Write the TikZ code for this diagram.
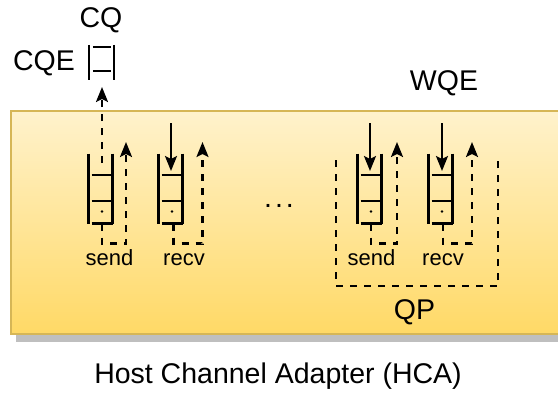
\documentclass[tikz,border=0pt]{standalone}
\usepackage{fontspec}
\setmainfont{Liberation Sans}
\usetikzlibrary{arrows.meta,calc}
\definecolor{boxtop}{HTML}{FFF2CC}
\definecolor{boxbot}{HTML}{FFD966}
\definecolor{boxline}{HTML}{D6B656}
\definecolor{shadowc}{HTML}{BFBFBF}
\tikzset{
  qline/.style={line width=2.3pt},
  qnode/.style={minimum width=24pt,minimum height=70pt,inner sep=0pt,outer sep=0pt},
  solidarrow/.style={line width=2.3pt,-{Stealth[length=15pt,width=12pt,inset=3pt]}},
  dasharrow/.style={line width=2.3pt,dash pattern=on 7pt off 7pt,-{Stealth[length=15pt,width=12pt,inset=3pt]}},
  dashline/.style={line width=2.3pt,dash pattern=on 7pt off 7pt},
  biglabel/.style={anchor=base,inner sep=0pt,font=\fontsize{28.5}{30}\selectfont},
  smalllabel/.style={anchor=base,inner sep=0pt,font=\fontsize{22}{24}\selectfont},
}
\newcommand\drawqueue[3]{%
  \node[qnode] (#1) at (#2,#3) {};
  \draw[qline] (#1.north west) -- (#1.south west);
  \draw[qline] (#1.north east) -- (#1.south east);
  \draw[qline] ([xshift=3pt,yshift=-21.5pt]#1.north west) -- ([yshift=-21.5pt]#1.north east);
  \draw[qline] ([xshift=3pt,yshift=-47.5pt]#1.north west) -- ([yshift=-47.5pt]#1.north east);
  \draw[qline] ([xshift=3pt]#1.south west) -- (#1.south east);
  \fill ([xshift=1.5pt,yshift=-58pt]#1.north) circle (1.3pt);
}
\begin{document}
\begin{tikzpicture}[x=1pt,y=-1pt]
\useasboundingbox (0,0) rectangle (558,392);
\clip (0,0) rectangle (558,392);
% HCA box with shadow
\fill[shadowc] (16,118) rectangle (575,342);
\shade[top color=boxtop,bottom color=boxbot] (11,111) rectangle (575,334);
\draw[boxline,line width=2pt] (11,111) rectangle (575,334);

% CQE element
\node[inner sep=0pt,minimum width=25pt,minimum height=35pt] (cqe) at (101.5,62.5) {};
\draw[qline] (cqe.north west) -- (cqe.south west);
\draw[qline] (cqe.north east) -- (cqe.south east);
\draw[qline] ([xshift=4pt,yshift=-2pt]cqe.north west) -- ([xshift=-3pt,yshift=-2pt]cqe.north east);
\draw[qline] ([xshift=4pt,yshift=9pt]cqe.south west) -- ([xshift=-3pt,yshift=9pt]cqe.south east);
\coordinate (cqetip) at (102,87);

% queues
\drawqueue{sq1}{100.5}{188.5}
\drawqueue{rq1}{170.5}{188.5}
\drawqueue{sq2}{369.5}{188.5}
\drawqueue{rq2}{440.5}{188.5}

% send queue 1 -> CQE
\coordinate (sq1in) at (102,163);
\draw[dasharrow] (sq1in) -- (cqetip);

% incoming WQE arrows
\coordinate (rq1top) at (171,123);  \coordinate (rq1tip) at (171,171);
\coordinate (sq2top) at (370,123);  \coordinate (sq2tip) at (370,171);
\coordinate (rq2top) at (442,123);  \coordinate (rq2tip) at (442,171);
\draw[solidarrow] (rq1top) -- (rq1tip);
\draw[solidarrow] (sq2top) -- (sq2tip);
\draw[solidarrow] (rq2top) -- (rq2tip);

% completion loops
\coordinate (sq1up) at (126,142);
\coordinate (rq1up) at (202.5,142);
\coordinate (sq2up) at (397,142);
\coordinate (rq2up) at (472,142);
\draw[dasharrow] ([xshift=1.5pt]sq1.south) -- ++(0,20) -| (sq1up);
\draw[dasharrow] ([xshift=3pt]rq1.south) -- ++(0,20) -| (rq1up);
\draw[dasharrow] ([xshift=1.5pt]sq2.south) -- ++(0,20) -| (sq2up);
\draw[dasharrow] ([xshift=2.5pt]rq2.south) -- ++(0,20) -| (rq2up);

% QP bracket
\coordinate (qpa) at (336,160);
\coordinate (qpb) at (498,157);
\draw[dashline] (qpa) -- (336,286) -- (498,286) -- (qpb);

% labels
\node[biglabel] (cqlabel) at (101,27.5) {CQ};
\node[biglabel] (cqelabel) at (44,70.5) {CQE};
\node[biglabel] (wqelabel) at (444,90) {WQE};
\node[smalllabel] (send1) at (109.5,265) {send};
\node[smalllabel] (recv1) at (184,265) {recv};
\node[smalllabel] (send2) at (371.5,265) {send};
\node[smalllabel] (recv2) at (443,265) {recv};
\node[biglabel] (dots) at (279,207.5) {.\kern3pt.\kern3pt.};
\node[biglabel] (qplabel) at (414.5,319) {QP};
\node[biglabel] (hcalabel) at (278,383) {Host Channel Adapter (HCA)};
\end{tikzpicture}
\end{document}
